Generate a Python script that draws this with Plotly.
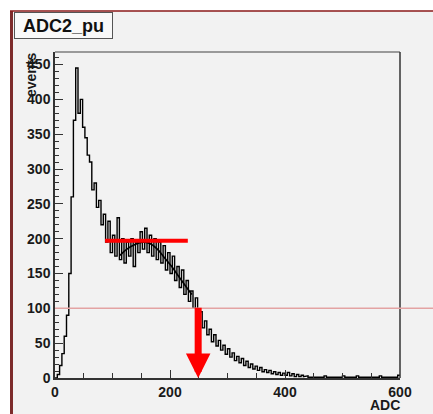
import numpy as np
import plotly.graph_objects as go

# ---------------- data ----------------
bin_width = 4
counts = [
    0, 5, 18, 35, 60, 90, 150, 260, 370, 445,
    380, 400, 360, 345, 320, 310, 270, 280, 245, 255,
    220, 235, 195, 225, 180, 205, 175, 230, 170, 200,
    165, 195, 175, 200, 160, 195, 180, 210, 185, 215,
    180, 205, 175, 200, 170, 195, 165, 190, 155, 180,
    150, 175, 140, 160, 130, 155, 120, 140, 110, 125,
    100, 115, 88, 95, 72, 82, 62, 70, 52, 62,
    46, 54, 40, 47, 34, 42, 30, 36, 25, 31,
    22, 28, 18, 24, 15, 20, 13, 17, 11, 15,
    9, 12, 8, 11, 6, 9, 5, 8, 4, 7,
    4, 8, 3, 6, 2, 5, 2, 4, 2, 3,
    1, 2, 1, 2, 1, 2, 1, 3, 1, 2,
    1, 1, 2, 1, 1, 3, 1, 1, 2, 1,
    1, 3, 1, 1, 1, 2, 1, 1, 2, 1,
    1, 3, 1, 1, 2, 1, 1, 2, 1, 4,
]
fit_adc = [113, 125, 140, 153, 165, 178, 190, 203, 215, 228, 238]
fit_val = [176, 185, 192, 195, 193, 185, 173, 160, 146, 131, 120]

plateau_level = 197
plateau_start, plateau_end = 87, 231
threshold_level = 100
arrow_adc = 249

x_ticks = [0, 200, 400, 600]
y_range = [0, 468]
x_range = [0, 600]

# ---------------- geometry helpers ----------------
W, H = 433, 414
ML, MR, MT, MB = 55, 33, 52, 36
PW, PH = W - ML - MR, H - MT - MB


def px_x(p):
    return (p - ML) / PW


def px_y(p):
    return (H - MB - p) / PH


edges = np.arange(len(counts) + 1) * bin_width
xs = np.repeat(edges, 2)[1:-1]
ys = np.repeat(counts, 2)

fig = go.Figure()
fig.add_trace(go.Scatter(x=xs, y=ys, mode="lines",
                         line=dict(color="black", width=1.4),
                         showlegend=False, hoverinfo="skip"))
fig.add_trace(go.Scatter(x=fit_adc, y=fit_val, mode="lines",
                         line=dict(color="black", width=1.6, shape="spline"),
                         showlegend=False, hoverinfo="skip"))

bold = dict(family="Liberation Sans, Arial", size=14, color="#1a1a1a", weight="bold")

shapes = [
    dict(type="rect", xref="paper", yref="paper", x0=px_x(10), x1=px_x(W + 5),
         y0=px_y(H + 5), y1=px_y(11), fillcolor="#f2f2f2", line=dict(width=0), layer="below"),
    dict(type="line", xref="paper", yref="paper", x0=px_x(11.5), x1=px_x(11.5),
         y0=px_y(H + 5), y1=px_y(11), line=dict(color="#7d2b2b", width=3)),
    dict(type="line", xref="paper", yref="paper", x0=px_x(10), x1=px_x(W + 5),
         y0=px_y(11), y1=px_y(11), line=dict(color="#8b1a1a", width=1.5)),
    dict(type="line", xref="paper", yref="paper", x0=0, x1=1, y0=1, y1=1,
         line=dict(color="#9a9a9a", width=2)),
    dict(type="line", xref="paper", yref="paper", x0=1, x1=1, y0=0, y1=1,
         line=dict(color="#333333", width=1.5)),
    dict(type="line", xref="paper", yref="paper", x0=0, x1=px_x(W + 5),
         y0=(threshold_level - y_range[0]) / (y_range[1] - y_range[0]),
         y1=(threshold_level - y_range[0]) / (y_range[1] - y_range[0]),
         line=dict(color="#e3a3a3", width=1.5)),
    dict(type="line", xref="x", yref="y", x0=plateau_start, x1=plateau_end,
         y0=plateau_level, y1=plateau_level, line=dict(color="#ff0000", width=4)),
]

annotations = [
    dict(x=arrow_adc, y=0, ax=arrow_adc, ay=threshold_level + 3, xref="x", yref="y",
         axref="x", ayref="y", text="", showarrow=True, arrowhead=2, arrowsize=0.7,
         arrowwidth=7, arrowcolor="#ff0000", standoff=0),
    dict(x=px_x(14), y=px_y(12), xref="paper", yref="paper", xanchor="left", yanchor="top",
         text="ADC2_pu", showarrow=False, font=dict(family="Liberation Sans, Arial", size=18,
                                                      color="#111", weight="bold"),
         bgcolor="#f9f9f9", bordercolor="#555555", borderwidth=1, borderpad=2,
         width=93, height=21),
    dict(x=px_x(31), y=px_y(75), xref="paper", yref="paper", xanchor="center", yanchor="middle",
         text="events", textangle=-90, showarrow=False,
         font=dict(family="Liberation Sans, Arial", size=14, color="#1a1a1a", weight="bold")),
    dict(x=px_x(385), y=px_y(405), xref="paper", yref="paper", xanchor="center", yanchor="middle",
         text="ADC", showarrow=False,
         font=dict(family="Liberation Sans, Arial", size=14, color="#1a1a1a", weight="bold")),
]

fig.update_layout(
    width=W, height=H,
    margin=dict(l=ML, r=MR, t=MT, b=MB),
    paper_bgcolor="white", plot_bgcolor="#f3f3f3",
    shapes=shapes, annotations=annotations, showlegend=False,
)
fig.update_xaxes(range=x_range, tickvals=x_ticks, ticks="inside", ticklen=8, tickcolor="#333",
                 showgrid=False, zeroline=False, showline=True, linecolor="#333", linewidth=1.5,
                 tickfont=bold, minor=dict(dtick=50, ticks="inside", ticklen=5, tickcolor="#333"))
fig.update_yaxes(range=y_range, dtick=50, ticks="inside", ticklen=8, tickcolor="#333",
                 showgrid=False, zeroline=False, showline=True, linecolor="#333", linewidth=1.5,
                 tickfont=bold, minor=dict(dtick=10, ticks="inside", ticklen=4, tickcolor="#333"))

fig.write_html("out.html")
